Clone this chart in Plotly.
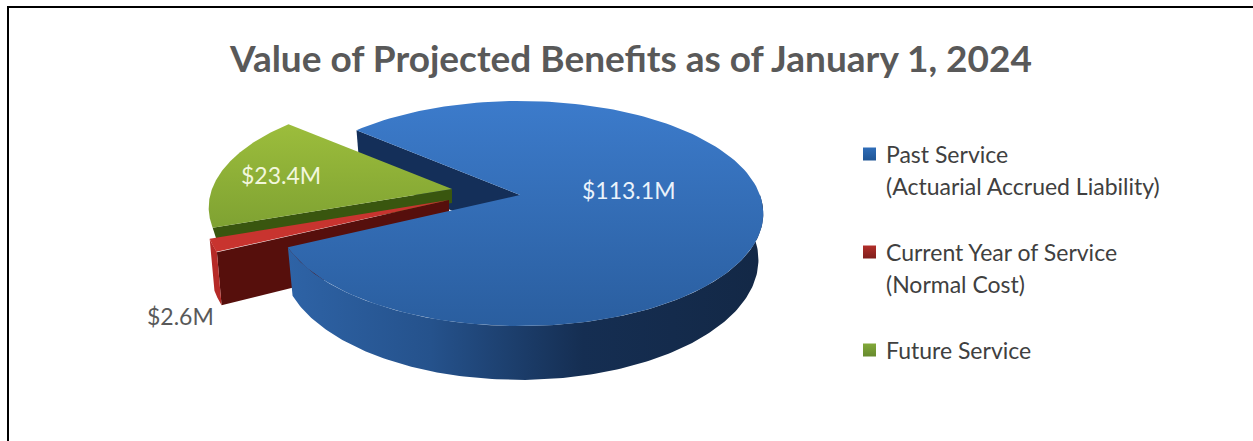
import numpy as np
import plotly.graph_objects as go

# ---- data ----
categories = ["Past Service", "Current Year of Service", "Future Service"]
legend_lines = [["Past Service", "(Actuarial Accrued Liability)"],
                ["Current Year of Service", "(Normal Cost)"],
                ["Future Service"]]
values = [113.1, 2.6, 23.4]
value_labels = ["$113.1M", "$2.6M", "$23.4M"]
title_text = "Value of Projected Benefits as of January 1, 2024"

W, H = 1253, 441
START = 311.0          # first-slice angle, degrees clockwise from the back of the disc
A, B, K = 240.0, 109.5, 0.1645   # disc half width, half depth, perspective
DEPTH = 45.0
RED_DEPTH = 49.0
APEX = {"blue": (520, 195), "red": (449, 200), "green": (452, 189)}

total = sum(values)
spans = [v / total * 360 for v in values]
t_blue = (START, START + spans[0])
t_red = (t_blue[1], t_blue[1] + spans[1])
t_green = (t_red[1], t_red[1] + spans[2])


def top(apex, t):
    t = np.radians(np.asarray(t, float))
    w = 1 + K * np.cos(t)
    return apex[0] + A * np.sin(t) / w, apex[1] - B * np.cos(t) / w


def bot(apex, t, depth=DEPTH):
    x, y = top(apex, t)
    w = 1 + K * np.cos(np.radians(np.asarray(t, float)))
    return apex[0] + (x - apex[0]) * 0.98, y + depth / w


def arc(a, b, n=160):
    return np.linspace(a, b, n)


fig = go.Figure()


def poly(xs, ys, color=None, grad=None):
    kw = dict(x=list(xs), y=list(ys), mode="lines", fill="toself", line=dict(width=0),
              hoverinfo="skip", showlegend=False)
    if grad:
        kw["fillgradient"] = dict(type=grad[0], colorscale=grad[1])
        kw["fillcolor"] = grad[1][0][1]
    else:
        kw["fillcolor"] = color
    fig.add_trace(go.Scatter(**kw))


def radial_wall(apex, t, color, depth=DEPTH):
    x0, y0 = top(apex, t)
    x1, y1 = bot(apex, t, depth)
    ax, ay = apex
    poly([x0, ax, ax, x1, x0], [y0, ay, ay + depth, y1, y0], color)


def wedge_top(apex, a, b, color=None, grad=None):
    x, y = top(apex, arc(a, b))
    poly([apex[0], *x, apex[0]], [apex[1], *y, apex[1]], color, grad)


def side_wall(apex, a, b, color=None, grad=None, depth=DEPTH):
    x, y = top(apex, arc(a, b))
    xb, yb = bot(apex, arc(a, b), depth)
    poly([*x, *xb[::-1], x[0]], [*y, *yb[::-1], y[0]], color, grad)


# blue inner wall (behind the pulled slices)
radial_wall(APEX["blue"], t_blue[0], "#142F59")

# green slice
radial_wall(APEX["green"], t_green[0], "#39560F", depth=14)
wedge_top(APEX["green"], *t_green,
          grad=("vertical", [[0, "#7FA232"], [1, "#9CBD3C"]]))

# red slice
radial_wall(APEX["red"], t_red[0], "#560F0C", depth=RED_DEPTH)
side_wall(APEX["red"], t_red[0], t_red[1], "#B52A27", depth=RED_DEPTH)
wedge_top(APEX["red"], *t_red, "#C8342F")

# blue slice: visible outer wall then top
side_wall(APEX["blue"], 450, t_blue[1],
          grad=("horizontal", [[0, "#2E63A6"], [0.3, "#25528C"], [0.62, "#152E52"],
                               [1, "#132846"]]))
wedge_top(APEX["blue"], *t_blue,
          grad=("vertical", [[0, "#2A5E9F"], [1, "#3C7BCB"]]))

# legend swatches
swatch_y = [154, 252, 350]
swatch_col = ["#2F6DB8", "#B22E2A", "#82A93A"]
swatch_dark = ["#1F5595", "#7F1F1C", "#678A2E"]
fig.add_trace(go.Scatter(
    x=[869.5] * 3, y=swatch_y, mode="markers", hoverinfo="skip", showlegend=False,
    marker=dict(symbol="square", size=13, color=swatch_col, line=dict(width=0),
                gradient=dict(type="vertical", color=swatch_dark))))

annotations = []


def text(x, y, s, size, color, anchor="center", bold=False):
    annotations.append(dict(x=x, y=y, xref="x", yref="y", text=f"<b>{s}</b>" if bold else s,
                            showarrow=False, xanchor=anchor, yanchor="middle",
                            font=dict(family="Lato", size=size, color=color)))


text(630, 57, title_text, 37, "#595959", bold=True)
text(628, 190, value_labels[0], 23, "#EAF3FB")
text(281, 175, value_labels[2], 23, "#F2F7DD")
text(180, 316, value_labels[1], 23, "#595959")

line_y = [[154, 186], [252, 284], [350]]
for lines, ys in zip(legend_lines, line_y):
    for s, y in zip(lines, ys):
        text(884, y, s, 23, "#404040", anchor="left")

fig.update_layout(
    width=W, height=H, margin=dict(l=0, r=0, t=0, b=0),
    paper_bgcolor="white", plot_bgcolor="white", showlegend=False,
    xaxis=dict(range=[0, W], visible=False, fixedrange=True),
    yaxis=dict(range=[H, 0], visible=False, fixedrange=True),
    annotations=annotations,
    shapes=[dict(type="line", xref="x", yref="y", x0=8, x1=8, y0=6, y1=H,
                 line=dict(color="black", width=2)),
            dict(type="line", xref="x", yref="y", x0=7, x1=W, y0=7, y1=7,
                 line=dict(color="black", width=2))],
)
fig.write_html("out.html", config=dict(displayModeBar=False),
               post_script="document.body.style.margin='0';document.documentElement.style.overflow='hidden';")
